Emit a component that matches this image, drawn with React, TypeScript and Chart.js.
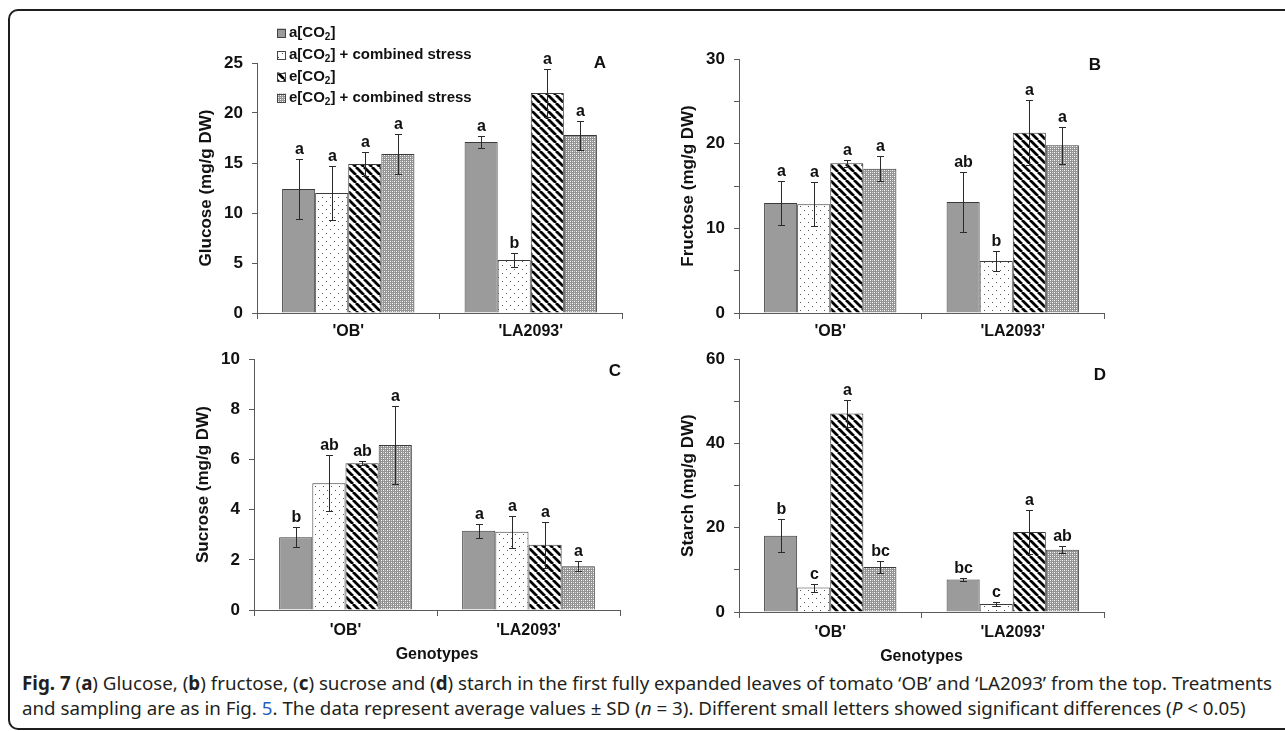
import React, { useEffect, useRef } from 'react';
import { Chart, registerables } from 'chart.js';

Chart.register(...registerables);

// ---------------- data ----------------
const genotypes = ["'OB'", "'LA2093'"];
const treatmentNames = ['a[CO2]', 'a[CO2] + combined stress', 'e[CO2]', 'e[CO2] + combined stress'];

// values per treatment: [OB, LA2093]
const glucoseMeans = [[12.4, 17.1], [12.0, 5.3], [14.9, 22.0], [15.9, 17.8]];
const glucoseSD = [[3.0, 0.6], [2.7, 0.7], [1.2, 2.4], [2.0, 1.45]];
const glucoseLetters = [['a', 'a'], ['a', 'b'], ['a', 'a'], ['a', 'a']];

const fructoseMeans = [[13.0, 13.1], [12.85, 6.15], [17.7, 21.3], [17.05, 19.8]];
const fructoseSD = [[2.55, 3.55], [2.6, 1.2], [0.4, 3.85], [1.45, 2.15]];
const fructoseLetters = [['a', 'ab'], ['a', 'b'], ['a', 'a'], ['a', 'a']];

const sucroseMeans = [[2.9, 3.16], [5.05, 3.12], [5.85, 2.6], [6.58, 1.74]];
const sucroseSD = [[0.4, 0.27], [1.12, 0.63], [0.08, 0.92], [1.55, 0.2]];
const sucroseLetters = [['b', 'a'], ['ab', 'a'], ['ab', 'a'], ['a', 'a']];

const starchMeans = [[18.1, 7.7], [5.8, 1.9], [47.1, 19.0], [10.7, 14.8]];
const starchSD = [[3.9, 0.4], [0.95, 0.45], [3.3, 5.3], [1.35, 0.8]];
const starchLetters = [['b', 'bc'], ['c', 'c'], ['a', 'a'], ['bc', 'ab']];

const yTitles = ['Glucose (mg/g DW)', 'Fructose (mg/g DW)', 'Sucrose (mg/g DW)', 'Starch (mg/g DW)'];
const yMaxes = [25, 30, 10, 60];
const ySteps = [5, 5, 2, 10];
const yLabelEvery = [5, 10, 2, 20];
const panelLetters = ['A', 'B', 'C', 'D'];

// ---------------- styling / layout ----------------
const FONT = "'Liberation Sans', Arial, Helvetica, sans-serif";
const AXIS = '#5a5a5a';

type Layout = {
  left: number; top: number; width: number; height: number;
  padTop: number; padRight: number; yW: number; xH: number; xPad: number;
  letterX: number; letterY: number; genotypes: boolean; legend: boolean;
};

const layouts: Layout[] = [
  { left: 196, top: 15, width: 436, height: 338, padTop: 48, padRight: 10, yW: 61, xH: 40, xPad: 3, letterX: 600, letterY: 63, genotypes: false, legend: true },
  { left: 678, top: 20, width: 436, height: 333, padTop: 39, padRight: 10, yW: 61, xH: 40, xPad: 3, letterX: 1095, letterY: 65, genotypes: false, legend: false },
  { left: 193, top: 340, width: 437, height: 325, padTop: 15, padRight: 10, yW: 61, xH: 55, xPad: 5, letterX: 615, letterY: 371, genotypes: true, legend: false },
  { left: 678, top: 340, width: 436, height: 327, padTop: 16, padRight: 10, yW: 61, xH: 55, xPad: 5, letterX: 1100, letterY: 375, genotypes: true, legend: false },
];

const allMeans = [glucoseMeans, fructoseMeans, sucroseMeans, starchMeans];
const allSD = [glucoseSD, fructoseSD, sucroseSD, starchSD];
const allLetters = [glucoseLetters, fructoseLetters, sucroseLetters, starchLetters];

function makePatterns(): (string | CanvasPattern)[] {
  const mk = (size: number, draw: (c: CanvasRenderingContext2D) => void) => {
    const cv = document.createElement('canvas');
    cv.width = size; cv.height = size;
    const c = cv.getContext('2d')!;
    draw(c);
    return c.createPattern(cv, 'repeat')!;
  };
  const dots = mk(8, (c) => {
    c.fillStyle = '#ffffff'; c.fillRect(0, 0, 8, 8);
    c.fillStyle = '#555555';
    c.fillRect(2, 2, 1, 1); c.fillRect(6, 6, 1, 1);
  });
  const stripes = mk(8, (c) => {
    c.fillStyle = '#ffffff'; c.fillRect(0, 0, 8, 8);
    c.strokeStyle = '#000000'; c.lineWidth = 2.8;
    c.beginPath();
    for (const k of [-8, 0, 8]) { c.moveTo(k, 0); c.lineTo(k + 8, 8); }
    c.stroke();
  });
  const cross = mk(4, (c) => {
    c.fillStyle = '#939393'; c.fillRect(0, 0, 4, 4);
    c.fillStyle = '#ffffff'; c.fillRect(0, 0, 1, 1); c.fillRect(2, 2, 1, 1);
    c.fillStyle = '#d6d6d6'; c.fillRect(2, 0, 1, 1); c.fillRect(0, 2, 1, 1);
  });
  return ['#9b9b9b', dots, stripes, cross];
}

function drawLabelWithSub(ctx: CanvasRenderingContext2D, text: string, x: number, y: number) {
  // renders "CO2" with subscript 2
  const idx = text.indexOf('CO2');
  ctx.textAlign = 'left';
  ctx.textBaseline = 'middle';
  ctx.font = `bold 15px ${FONT}`;
  if (idx < 0) { ctx.fillText(text, x, y); return; }
  const pre = text.slice(0, idx + 2);
  const post = text.slice(idx + 3);
  ctx.fillText(pre, x, y);
  let cx = x + ctx.measureText(pre).width;
  ctx.font = `bold 10px ${FONT}`;
  ctx.fillText('2', cx, y + 4);
  cx += ctx.measureText('2').width;
  ctx.font = `bold 15px ${FONT}`;
  ctx.fillText(post, cx, y);
}

function makeAnnotPlugin(idx: number, patterns: (string | CanvasPattern)[]) {
  const lay = layouts[idx];
  return {
    id: 'annot' + idx,
    afterDatasetsDraw(chart: any) {
      const ctx: CanvasRenderingContext2D = chart.ctx;
      const ys = chart.scales.y;
      ctx.save();
      chart.data.datasets.forEach((ds: any, i: number) => {
        const meta = chart.getDatasetMeta(i);
        meta.data.forEach((el: any, j: number) => {
          const v = ds.data[j];
          const sd = allSD[idx][i][j];
          const x = Math.round(el.x) + 0.5;
          const yt = Math.round(ys.getPixelForValue(v + sd)) + 0.5;
          const yb = Math.round(ys.getPixelForValue(v - sd)) + 0.5;
          ctx.strokeStyle = '#2a2a2a';
          ctx.lineWidth = 1;
          ctx.beginPath();
          ctx.moveTo(x, yt); ctx.lineTo(x, yb);
          ctx.moveTo(x - 3.5, yt); ctx.lineTo(x + 3.5, yt);
          ctx.moveTo(x - 3.5, yb); ctx.lineTo(x + 3.5, yb);
          ctx.stroke();
          ctx.fillStyle = '#111';
          ctx.font = `bold 16px ${FONT}`;
          ctx.textAlign = 'center';
          ctx.textBaseline = 'alphabetic';
          ctx.fillText(allLetters[idx][i][j], x, yt - 6);
        });
      });
      // panel letter
      ctx.fillStyle = '#111';
      ctx.font = `bold 17px ${FONT}`;
      ctx.textAlign = 'center';
      ctx.textBaseline = 'middle';
      ctx.fillText(panelLetters[idx], lay.letterX - lay.left, lay.letterY - lay.top);
      // legend
      if (lay.legend) {
        const rows = [33, 55, 77, 98];
        treatmentNames.forEach((name, i) => {
          const cy = rows[i] - lay.top;
          const lx = 277 - lay.left;
          ctx.fillStyle = patterns[i] as any;
          ctx.fillRect(lx, cy - 4.5, 9, 9);
          ctx.strokeStyle = '#444';
          ctx.lineWidth = 1;
          ctx.strokeRect(lx + 0.5, Math.round(cy - 4.5) + 0.5, 8, 8);
          ctx.fillStyle = '#111';
          drawLabelWithSub(ctx, name, 289 - lay.left, cy);
        });
      }
      ctx.restore();
    },
  };
}

function Panel({ idx }: { idx: number }) {
  const ref = useRef<HTMLCanvasElement>(null);
  const lay = layouts[idx];
  useEffect(() => {
    const canvas = ref.current!;
    const patterns = makePatterns();
    const labelEvery = yLabelEvery[idx];
    const chart = new Chart(canvas, {
      type: 'bar',
      data: {
        labels: genotypes,
        datasets: allMeans[idx].map((m, i) => ({
          label: treatmentNames[i],
          data: m,
          backgroundColor: patterns[i] as any,
          borderColor: '#3a3a3a',
          borderWidth: 1,
          categoryPercentage: 0.725,
          barPercentage: 1.0,
        })),
      },
      options: {
        responsive: false,
        animation: false,
        events: [],
        layout: { padding: { top: lay.padTop, right: lay.padRight, left: 0, bottom: 0 } },
        plugins: { legend: { display: false }, tooltip: { enabled: false } },
        scales: {
          x: {
            grid: { offset: true, drawOnChartArea: false, tickLength: 6, color: AXIS },
            border: { color: AXIS, width: 1 },
            ticks: { color: '#111', font: { family: FONT, size: 16, weight: 'bold' }, padding: lay.xPad },
            title: {
              display: lay.genotypes, text: 'Genotypes', color: '#111',
              font: { family: FONT, size: 16, weight: 'bold' }, padding: { top: 0, bottom: 1 },
            },
            afterFit: (s: any) => { s.height = lay.xH; },
          } as any,
          y: {
            min: 0,
            max: yMaxes[idx],
            ticks: {
              stepSize: ySteps[idx],
              color: '#111',
              padding: 9,
              font: { family: FONT, size: 17, weight: 'bold' },
              callback: (v: any) => (Math.round(v) % labelEvery === 0 ? String(v) : ''),
            },
            grid: { drawOnChartArea: false, tickLength: 5, color: AXIS },
            border: { color: AXIS, width: 1 },
            title: {
              display: true, text: yTitles[idx], color: '#111',
              font: { family: FONT, size: 17, weight: 'bold' }, padding: { top: 0, bottom: 0 },
            },
            afterFit: (s: any) => { s.width = lay.yW; },
          } as any,
        },
      },
      plugins: [makeAnnotPlugin(idx, patterns)],
    });
    return () => chart.destroy();
  }, [idx]);
  return (
    <canvas
      ref={ref}
      width={lay.width}
      height={lay.height}
      style={{ position: 'absolute', left: lay.left, top: lay.top, width: lay.width, height: lay.height }}
    />
  );
}

export default function App() {
  return (
    <div style={{ position: 'fixed', left: 0, top: 0, width: 1285, height: 731, overflow: 'hidden', background: '#fff' }}>
      <div
        style={{
          position: 'absolute', left: 8, top: 9, width: 1320, height: 721,
          border: '2px solid #1e1e1e', borderRadius: 10, boxSizing: 'border-box',
        }}
      />
      {[0, 1, 2, 3].map((i) => <Panel key={i} idx={i} />)}
      <div
        style={{
          position: 'absolute', left: 22, top: 670, whiteSpace: 'nowrap',
          fontFamily: "'Noto Sans', 'Open Sans', sans-serif", fontSize: 18.75, lineHeight: '25px', color: '#231f20',
        }}
      >
        <div>
          <b>Fig. 7</b> (<b>a</b>) Glucose, (<b>b</b>) fructose, (<b>c</b>) sucrose and (<b>d</b>) starch in the first fully expanded leaves of tomato ‘OB’ and ‘LA2093’ from the top. Treatments
        </div>
        <div>
          and sampling are as in Fig. <span style={{ color: '#1b5fbf' }}>5</span>. The data represent average values ± SD (<i>n</i> = 3). Different small letters showed significant differences (<i>P</i> &lt; 0.05)
        </div>
      </div>
    </div>
  );
}
